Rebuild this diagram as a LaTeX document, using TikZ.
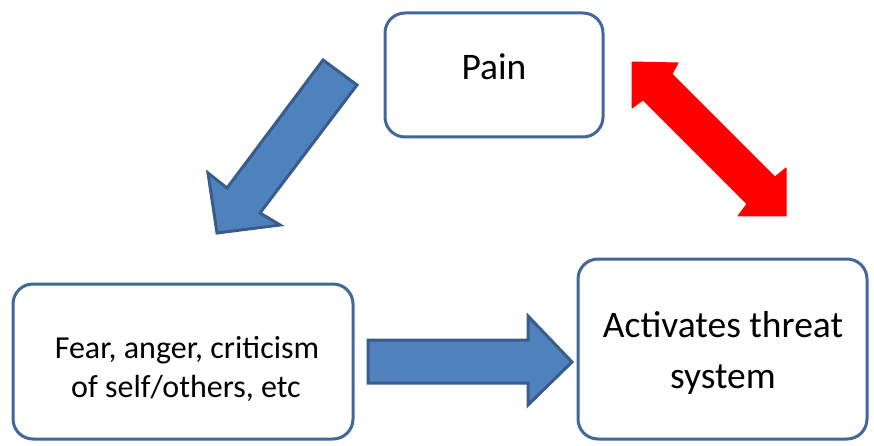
\documentclass[tikz,border=0pt]{standalone}
\usepackage{fontspec}
\setmainfont{Carlito}
\definecolor{boxline}{HTML}{41689A}
\definecolor{arrfill}{HTML}{4F81BD}
\definecolor{arrline}{HTML}{385D8A}
\begin{document}
\begin{tikzpicture}[x=1pt,y=-1pt,
  rbox/.style={draw=boxline,line width=3pt,rounded corners=20pt,fill=white},
  bluearrow/.style={draw=arrline,fill=arrfill,line width=3pt,line join=miter},
  redarrow/.style={fill=red,draw=red,line width=1pt,line join=round},
  big/.style={font=\fontsize{37.5}{45}\selectfont,anchor=base,inner sep=0pt},
  mid/.style={font=\fontsize{32}{40}\selectfont,anchor=base,inner sep=0pt}]
\useasboundingbox (0,0) rectangle (874,446);
% boxes
\draw[rbox] (385,13) rectangle (603,137);
\node[big] (pain) at (494,80) {Pain};
\draw[rbox] (13,284) rectangle (353,439);
\node[mid] (fearA) at (187,358) {Fear, anger, criticism};
\node[mid] (fearB) at (186,397) {of self/others, etc};
\draw[rbox] (578,259) rectangle (867,439);
\node[big] (threatA) at (723,337) {Activates threat};
\node[big] (threatB) at (723,388) {system};
% blue diagonal arrow
\draw[bluearrow] (323,60) -- (357,85) -- (260,213) -- (280,225) -- (217,233) -- (208,173) -- (227,188) -- cycle;
% blue horizontal arrow
\draw[bluearrow] (368,340) -- (528,340) -- (528,316) -- (572,362) -- (528,405) -- (528,383) -- (368,383) -- cycle;
% red double arrow
\draw[redarrow] (632,62) -- (678,63) -- (672,74) -- (775,177) -- (786,168) -- (786,216) -- (738,216) -- (747,204) -- (643,100) -- (632,108) -- cycle;
\end{tikzpicture}
\end{document}
